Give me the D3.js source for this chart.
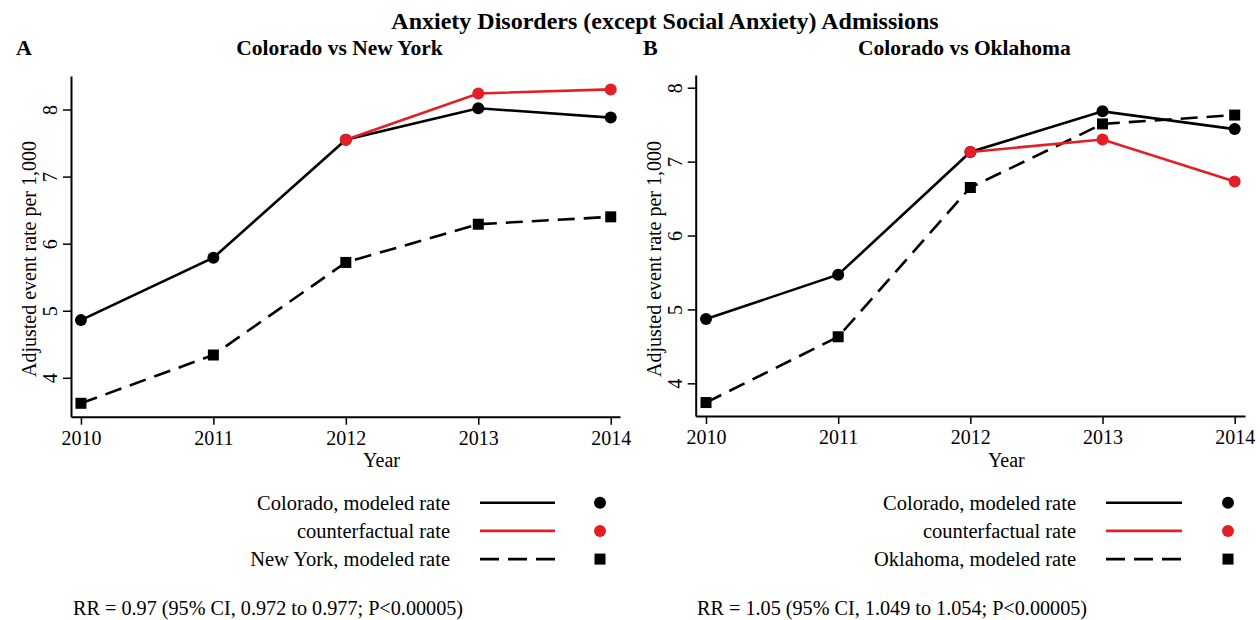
<!DOCTYPE html>
<html>
<head>
<meta charset="utf-8">
<script src="https://cdn.jsdelivr.net/npm/d3@7"></script>
<style>
  html, body { margin: 0; padding: 0; background: #fff; }
  svg { display: block; font-family: "Liberation Serif", "Times New Roman", serif; }
</style>
</head>
<body>
<svg id="chart" width="1260" height="620"></svg>
<script>
// Study years
const years = [2010, 2011, 2012, 2013, 2014];

// Panel A: Colorado vs New York (adjusted event rate per 1,000)
const coloradoA = [4.86, 5.79, 7.55, 8.02, 7.88];
const counterfactualA = [null, null, 7.55, 8.24, 8.30];
const newYork = [3.62, 4.34, 5.72, 6.29, 6.40];

// Panel B: Colorado vs Oklahoma
const coloradoB = [4.87, 5.47, 7.13, 7.68, 7.44];
const counterfactualB = [null, null, 7.13, 7.30, 6.73];
const oklahoma = [3.74, 4.63, 6.65, 7.51, 7.63];

const yTicks = [4, 5, 6, 7, 8];
const legendA = ["Colorado, modeled rate", "counterfactual rate", "New York, modeled rate"];
const legendB = ["Colorado, modeled rate", "counterfactual rate", "Oklahoma, modeled rate"];
const rrA = "RR = 0.97 (95% CI, 0.972 to 0.977; P<0.00005)";
const rrB = "RR = 1.05 (95% CI, 1.049 to 1.054; P<0.00005)";

const RED = "#e41e26";
const svg = d3.select("#chart");

svg.append("text")
  .attr("x", 665).attr("y", 29)
  .attr("text-anchor", "middle")
  .attr("font-size", 24).attr("font-weight", "bold")
  .text("Anxiety Disorders (except Social Anxiety) Admissions");

const panels = [
  {
    letter: "A", letterX: 16, subtitle: "Colorado vs New York",
    xDomain: [2009.925, 2014.07], xRange: [71, 620],
    yDomain: [3.42, 8.5], yRange: [416.7, 76],
    series: [
      { values: coloradoA, color: "#000", dash: null, shape: "circle" },
      { values: newYork, color: "#000", dash: "17,9", shape: "square" },
      { values: counterfactualA, color: RED, dash: null, shape: "circle" }
    ],
    legend: legendA, legendRight: 450, lineGap: 30, lineLen: 75, dotGap: 150,
    rr: rrA, rrX: 73
  },
  {
    letter: "B", letterX: 643, subtitle: "Colorado vs Oklahoma",
    xDomain: [2009.922, 2014.078], xRange: [695.7, 1245],
    yDomain: [3.558, 8.172], yRange: [416, 75],
    series: [
      { values: coloradoB, color: "#000", dash: null, shape: "circle" },
      { values: oklahoma, color: "#000", dash: "17,9", shape: "square" },
      { values: counterfactualB, color: RED, dash: null, shape: "circle" }
    ],
    legend: legendB, legendRight: 1076, lineGap: 30, lineLen: 76, dotGap: 152,
    rr: rrB, rrX: 697
  }
];

// Legend row styles: Colorado, counterfactual, comparison state
const legendStyles = [
  { color: "#000", dash: null, shape: "circle" },
  { color: RED, dash: null, shape: "circle" },
  { color: "#000", dash: "19,9", shape: "square" }
];

function drawMarker(g, shape, x, y, color) {
  if (shape === "circle") {
    g.append("circle").attr("cx", x).attr("cy", y).attr("r", 6).attr("fill", color);
  } else {
    g.append("rect").attr("x", x - 5.5).attr("y", y - 5.5)
      .attr("width", 11).attr("height", 11).attr("fill", color);
  }
}

panels.forEach(p => {
  const g = svg.append("g");
  const x = d3.scaleLinear().domain(p.xDomain).range(p.xRange);
  const y = d3.scaleLinear().domain(p.yDomain).range(p.yRange);
  const xMid = (p.xRange[0] + p.xRange[1]) / 2;

  g.append("text").attr("x", p.letterX).attr("y", 55)
    .attr("font-size", 22).attr("font-weight", "bold").text(p.letter);
  g.append("text").attr("x", xMid - 6).attr("y", 55)
    .attr("text-anchor", "middle")
    .attr("font-size", 21.5).attr("font-weight", "bold").text(p.subtitle);

  // x axis
  const xAxis = g.append("g")
    .attr("transform", `translate(0,${p.yRange[0]})`)
    .call(d3.axisBottom(x).tickValues(years).tickFormat(d3.format("d"))
      .tickSizeInner(8).tickSizeOuter(0).tickPadding(6));
  xAxis.select(".domain").attr("stroke-width", 2);
  xAxis.selectAll(".tick line").attr("stroke-width", 1.5);
  xAxis.selectAll(".tick text").attr("font-size", 20).attr("fill", "#000")
    .attr("font-family", "Liberation Serif, Times New Roman, serif");

  // y axis with rotated tick labels
  const yAxis = g.append("g")
    .attr("transform", `translate(${p.xRange[0]},0)`)
    .call(d3.axisLeft(y).tickValues(yTicks).tickFormat(d3.format("d"))
      .tickSizeInner(8).tickSizeOuter(0));
  yAxis.select(".domain").attr("stroke-width", 2);
  yAxis.selectAll(".tick line").attr("stroke-width", 1.5);
  yAxis.selectAll(".tick text")
    .attr("font-size", 20).attr("fill", "#000")
    .attr("font-family", "Liberation Serif, Times New Roman, serif")
    .attr("x", null).attr("dy", null)
    .attr("text-anchor", "middle")
    .attr("dominant-baseline", "central")
    .attr("transform", "translate(-21,0) rotate(-90)");

  g.append("text")
    .attr("transform", `translate(${p.xRange[0] - 42},259) rotate(-90)`)
    .attr("text-anchor", "middle").attr("dominant-baseline", "central")
    .attr("font-size", 20).text("Adjusted event rate per 1,000");

  g.append("text").attr("x", xMid + 36).attr("y", 467)
    .attr("text-anchor", "middle").attr("font-size", 20).text("Year");

  // series lines and markers
  const line = d3.line()
    .defined(d => d[1] != null)
    .x(d => x(d[0])).y(d => y(d[1]));
  p.series.forEach(s => {
    const pts = years.map((yr, i) => [yr, s.values[i]]);
    g.append("path").datum(pts)
      .attr("d", line).attr("fill", "none")
      .attr("stroke", s.color).attr("stroke-width", 2.6)
      .attr("stroke-dasharray", s.dash);
    pts.filter(d => d[1] != null).forEach(d => drawMarker(g, s.shape, x(d[0]), y(d[1]), s.color));
  });

  // legend
  p.legend.forEach((label, i) => {
    const cy = 502.7 + i * 28.2;
    const st = legendStyles[i];
    g.append("text").attr("x", p.legendRight).attr("y", cy)
      .attr("text-anchor", "end").attr("dominant-baseline", "central")
      .attr("font-size", 20.5).text(label);
    g.append("line")
      .attr("x1", p.legendRight + p.lineGap).attr("x2", p.legendRight + p.lineGap + p.lineLen)
      .attr("y1", cy).attr("y2", cy)
      .attr("stroke", st.color).attr("stroke-width", 2.6)
      .attr("stroke-dasharray", st.dash);
    drawMarker(g, st.shape, p.legendRight + p.dotGap, cy, st.color);
  });

  g.append("text").attr("x", p.rrX).attr("y", 615)
    .attr("font-size", 20.2).text(p.rr);
});
</script>
</body>
</html>
